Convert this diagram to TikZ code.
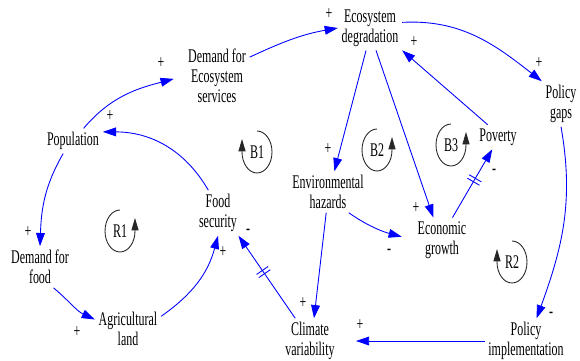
\documentclass[tikz,border=0pt]{standalone}
\usepackage{fontspec}
\newfontfamily\narrowserif[FakeStretch=0.62]{Liberation Serif}
\usetikzlibrary{arrows.meta,decorations.markings}

\tikzset{
  var/.style={align=center,inner sep=2pt,font=\narrowserif\fontsize{11pt}{11.5pt}\selectfont},
  sign/.style={inner sep=0pt,font=\narrowserif\fontsize{11pt}{11.5pt}\selectfont},
  link/.style={blue,line width=0.5pt,-{Triangle[length=7.5pt,width=5pt]}},
  loopmark/.style={black!85,line width=0.5pt,-{Triangle[length=7pt,width=4pt]}},
  delaymark/.style={postaction={decorate,decoration={markings,
      mark=at position #1 with {\draw[blue,line width=0.5pt,-] (-1.1pt,-4pt) -- (-1.1pt,4pt) (1.1pt,-4pt) -- (1.1pt,4pt);}}}},
  delaymark/.default=0.5
}

\begin{document}
\begin{tikzpicture}[x=0.02cm,y=0.02cm]
  \useasboundingbox (0,0) rectangle (580,360);
  % variables
  \node[var] (pop) at (73,219) {Population};
  \node[var] (des) at (217,284) {Demand for\\Ecosystem\\services};
  \node[var] (eco) at (370,332) {Ecosystem\\degradation};
  \node[var] (gap) at (561,256) {Policy\\gaps};
  \node[var] (pov) at (498,223) {Poverty};
  \node[var] (env) at (328,168) {Environmental\\hazards};
  \node[var] (fsec) at (218,147) {Food\\security};
  \node[var] (egr) at (442,120) {Economic\\growth};
  \node[var] (dfood) at (40,93) {Demand for\\food};
  \node[var] (agr) at (128,31) {Agricultural\\land};
  \node[var] (clim) at (310,19) {Climate\\variability};
  \node[var] (pimp) at (526,19) {Policy\\implementation};
  % loops
  \node[var] (b1) at (257,208) {B1};
  \node[var] (b2) at (377,210) {B2};
  \node[var] (b3) at (451,215) {B3};
  \node[var] (r1) at (120,129) {R1};
  \node[var] (r2) at (512,98) {R2};
  \draw[loopmark] (b1.center) ++(0,21) arc[start angle=90,end angle=-180,x radius=0.3cm,y radius=0.42cm] -- ++(0,13);
  \draw[loopmark] (r2.center) ++(0,21) arc[start angle=90,end angle=-180,x radius=0.3cm,y radius=0.42cm] -- ++(0,13);
  \draw[loopmark] (b2.center) ++(0,21) arc[start angle=90,end angle=360,x radius=0.3cm,y radius=0.42cm] -- ++(0,13);
  \draw[loopmark] (b3.center) ++(0,21) arc[start angle=90,end angle=360,x radius=0.3cm,y radius=0.42cm] -- ++(0,13);
  \draw[loopmark] (r1.center) ++(0,21) arc[start angle=90,end angle=360,x radius=0.3cm,y radius=0.42cm] -- ++(0,13);
  % links
  \draw[link,shorten >=0.22cm] (pop.50) to[out=50,in=195] (des.west);
  \draw[link] (des.30) to[out=25,in=190] (eco.west);
  \draw[link] (eco.10) to[out=3,in=142] (gap.north west);
  \draw[link] (pov.130) -- (eco.south east);
  \draw[link] (eco.-100) -- (env.73);
  \draw[link] (eco.-75) -- (egr.111);
  \draw[link,delaymark=.55] (egr.65) -- (pov.-115);
  \draw[link,shorten >=0.25cm] (env.-45) to[out=-35,in=165] (egr.west);
  \draw[link] (env.-95) -- (clim.80);
  \draw[link,delaymark=.56] (clim.123) -- (fsec.-48);
  \draw[link] (agr.21) to[out=35,in=-105] (fsec.south);
  \draw[link] (fsec.113) to[out=120,in=0] (pop.17);
  \draw[link] (pop.232) to[out=-120,in=88] (dfood.north);
  \draw[link] (dfood.-57) to[out=-40,in=155] (agr.164);
  \draw[link] (gap.south) to[out=-80,in=70] (pimp.65);
  \draw[link,shorten >=0.35cm] (pimp.west) -- (clim.east);
  % polarities
  \node[sign] (p1) at (161,297) {+};
  \node[sign] (p2) at (329,346) {+};
  \node[sign] (p3) at (539,297) {+};
  \node[sign] (p4) at (414,318) {+};
  \node[sign] (p5) at (328,211) {+};
  \node[sign] (p6) at (416,152) {+};
  \node[sign] (p7) at (494,188) {-};
  \node[sign] (p8) at (389,108) {-};
  \node[sign] (p9) at (303,57) {+};
  \node[sign] (p10) at (248,128) {-};
  \node[sign] (p11) at (223,108) {+};
  \node[sign] (p12) at (110,244) {+};
  \node[sign] (p13) at (28,128) {+};
  \node[sign] (p14) at (77,28) {+};
  \node[sign] (p15) at (551,45) {-};
  \node[sign] (p16) at (360,35) {+};
\end{tikzpicture}
\end{document}
